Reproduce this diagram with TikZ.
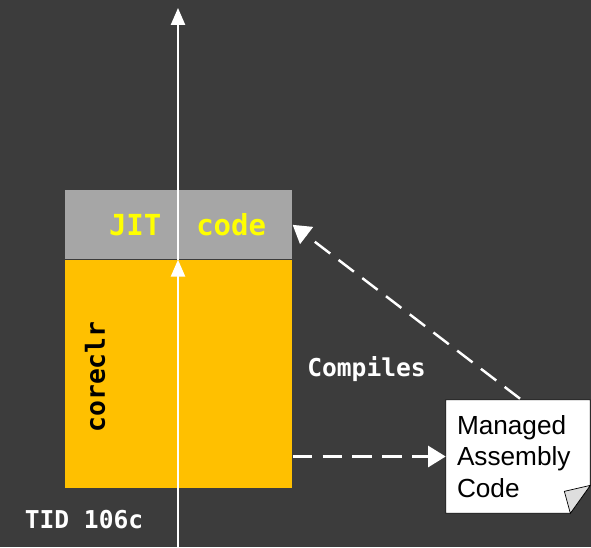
\documentclass[tikz,border=0pt]{standalone}
\usepackage{fontspec}
\setmainfont{Liberation Sans}
\newfontfamily\codefont{DejaVu Sans Mono}
\usetikzlibrary{arrows.meta, positioning, calc, backgrounds}
\definecolor{mybg}{RGB}{60,60,60}
\definecolor{mygray}{RGB}{166,166,166}
\definecolor{myamber}{RGB}{255,192,0}
\definecolor{myjit}{RGB}{255,255,0}
\definecolor{myflap}{RGB}{222,222,222}
\tikzset{
  jitblock/.style={rectangle, fill=mygray, minimum width=4.54cm,
    minimum height=1.38cm, inner sep=0pt, text=myjit,
    font=\codefont\bfseries\fontsize{16.5}{20}\selectfont},
  coreblock/.style={rectangle, fill=myamber, minimum width=4.54cm,
    minimum height=4.56cm, inner sep=0pt},
  codelabel/.style={font=\codefont\bfseries\fontsize{14}{17}\selectfont,
    text=white, inner sep=0pt},
  notebox/.style={rectangle, minimum width=2.88cm, minimum height=2.26cm,
    text width=2.44cm, align=left, inner sep=0.22cm,
    font=\fontsize{14.9}{18.1}\selectfont},
  noteline/.style={draw=black, line width=0.4pt},
  arrow/.style={-{Triangle[length=9.6pt, width=8pt]}, white, line width=1.1pt},
  dasharrow/.style={-{Triangle[length=10pt, width=12pt]}, white,
    line width=1.4pt, dash pattern=on 11pt off 6pt}
}

\begin{document}
\begin{tikzpicture}[x=0.02cm, y=-0.02cm]
  % runtime blocks
  \node[jitblock, anchor=north west] (jit) at (65,190) {\phantom{x}JIT\ \ code};
  \node[coreblock, below=0pt of jit] (core) {};
  \node[rotate=90, font=\codefont\bfseries\fontsize{15}{18}\selectfont,
    inner sep=0pt] (clr) at (95,377) {coreclr};

  % thread line
  \coordinate (base) at (178,547);
  \coordinate (top) at (178,8);
  \draw[arrow] (base) -- (base |- core.north);
  \draw[arrow] (base |- core.north) -- (top);

  % labels
  \node[codelabel] (comp) at (366.5,369) {Compiles};
  \node[codelabel] (tid) at (84,520) {TID 106c};

  % note with folded corner
  \node[notebox] (note) at (518,456.5) {Managed\\Assembly\\Code};
  \begin{scope}[on background layer]
    \fill[mybg] (0,0) rectangle (591,547);
    \fill[white] (note.north west) -- (note.north east)
      -- ($(note.south east)+(0,-28)$) -- ($(note.south east)+(-20,0)$)
      -- (note.south west) -- cycle;
  \end{scope}
  \draw[noteline] (note.north west) -- (note.north east)
    -- ($(note.south east)+(0,-28)$) -- ($(note.south east)+(-20,0)$)
    -- (note.south west) -- cycle;
  \draw[noteline, fill=myflap] ($(note.south east)+(0,-28)$)
    -- ($(note.south east)+(-26,-22)$) -- ($(note.south east)+(-20,0)$) -- cycle;

  % compile paths
  \draw[dasharrow] ($(note.north)+(2,-1)$) -- (jit.east);
  \draw[dasharrow] (core.east |- note.west) -- (note.west);
\end{tikzpicture}
\end{document}
